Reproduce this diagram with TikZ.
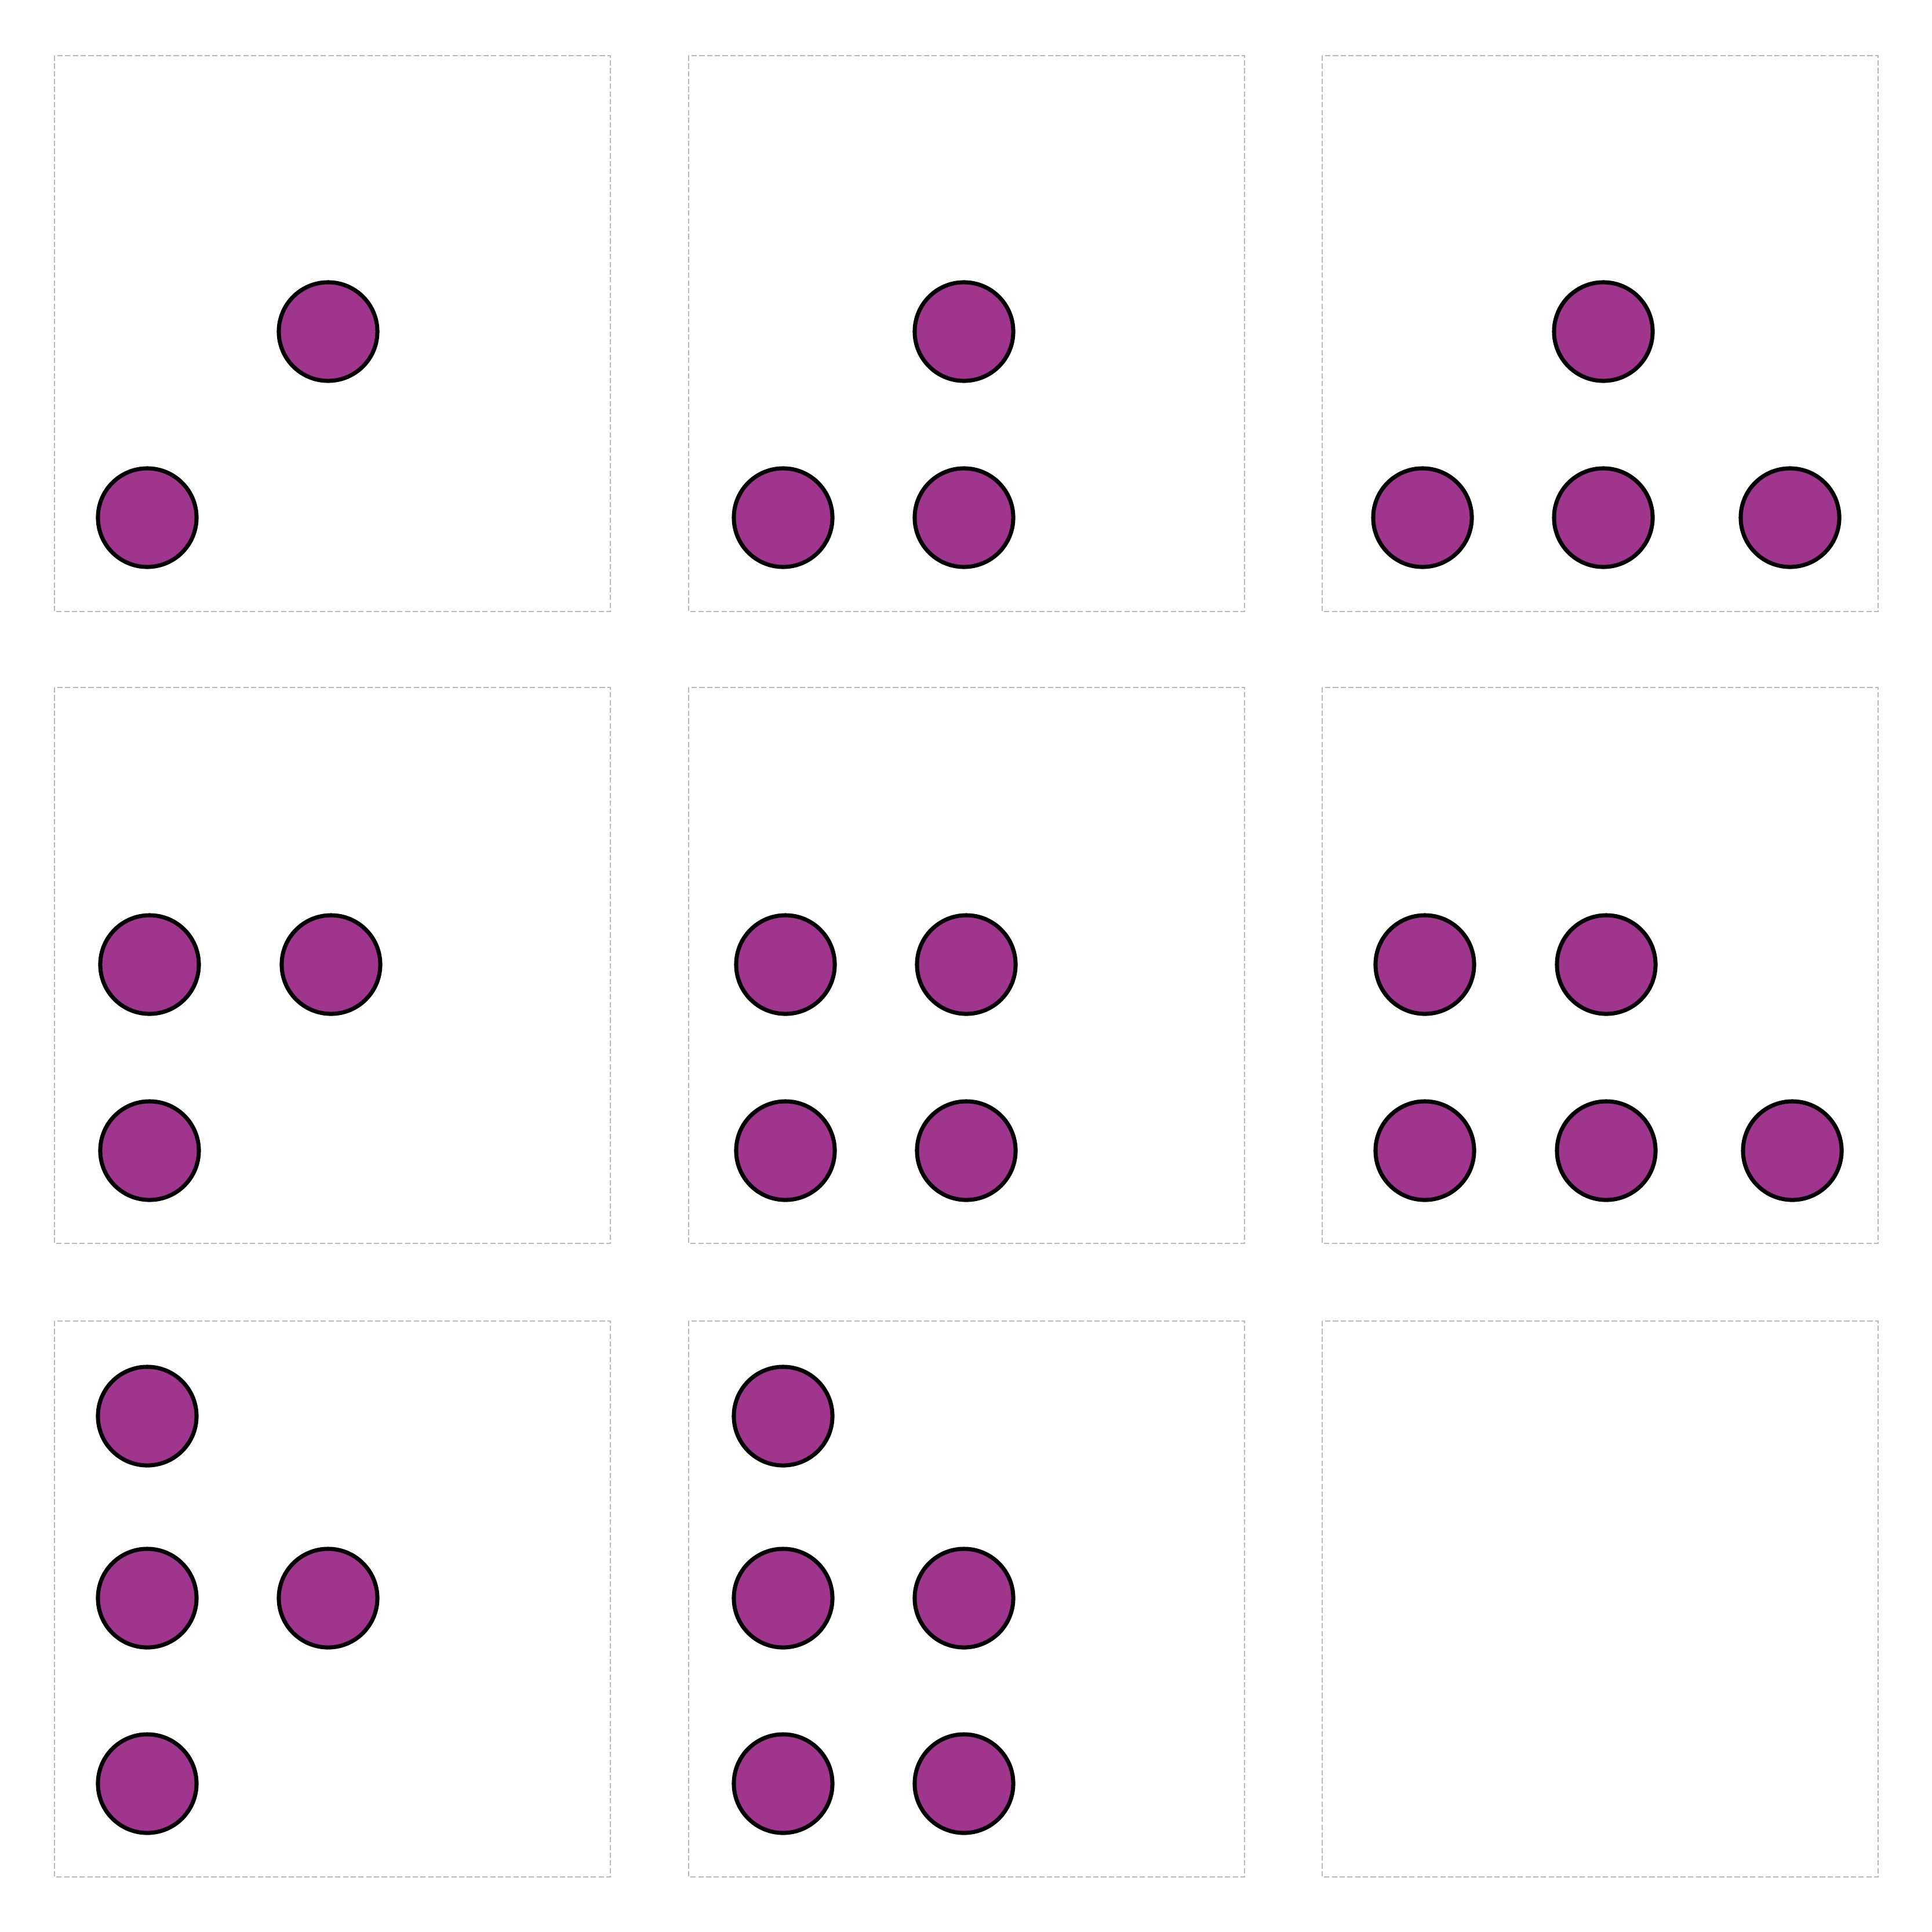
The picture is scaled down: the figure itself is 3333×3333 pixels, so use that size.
\documentclass[tikz,border=0pt]{standalone}
\definecolor{dotfill}{RGB}{160,53,142}
\definecolor{boxgrey}{RGB}{185,185,185}
\begin{document}
\begin{tikzpicture}[x=0.01cm,y=-0.01cm,
  dot/.style={circle,draw=black,fill=dotfill,line width=2pt,minimum size=1.7cm,inner sep=0pt},
  panel/.style={draw=boxgrey,line width=0.7pt,dash pattern=on 2.6pt off 1.2pt}]
\useasboundingbox[fill=white] (0,0) rectangle (3333,3333);
% panels
\foreach \px in {94,1188,2281}{
  \foreach \py in {96,1186,2279}{
    \draw[panel] (\px,\py) rectangle ++(959,959);
  }
}
% panel 1
\node[dot] (a1) at (566,572) {};
\node[dot] (a2) at (254,893) {};
% panel 2
\node[dot] (b1) at (1663,572) {};
\node[dot] (b2) at (1351,893) {};
\node[dot] (b3) at (1663,893) {};
% panel 3
\node[dot] (c1) at (2766,572) {};
\node[dot] (c2) at (2454,893) {};
\node[dot] (c3) at (2766,893) {};
\node[dot] (c4) at (3088,893) {};
% panel 4
\node[dot] (d1) at (258,1664) {};
\node[dot] (d2) at (571,1664) {};
\node[dot] (d3) at (258,1985) {};
% panel 5
\node[dot] (e1) at (1355,1664) {};
\node[dot] (e2) at (1667,1664) {};
\node[dot] (e3) at (1355,1985) {};
\node[dot] (e4) at (1667,1985) {};
% panel 6
\node[dot] (f1) at (2458,1664) {};
\node[dot] (f2) at (2771,1664) {};
\node[dot] (f3) at (2458,1985) {};
\node[dot] (f4) at (2771,1985) {};
\node[dot] (f5) at (3092,1985) {};
% panel 7
\node[dot] (g1) at (254,2443) {};
\node[dot] (g2) at (254,2757) {};
\node[dot] (g3) at (566,2757) {};
\node[dot] (g4) at (254,3077) {};
% panel 8
\node[dot] (h1) at (1351,2443) {};
\node[dot] (h2) at (1351,2757) {};
\node[dot] (h3) at (1663,2757) {};
\node[dot] (h4) at (1351,3077) {};
\node[dot] (h5) at (1663,3077) {};
\end{tikzpicture}
\end{document}
